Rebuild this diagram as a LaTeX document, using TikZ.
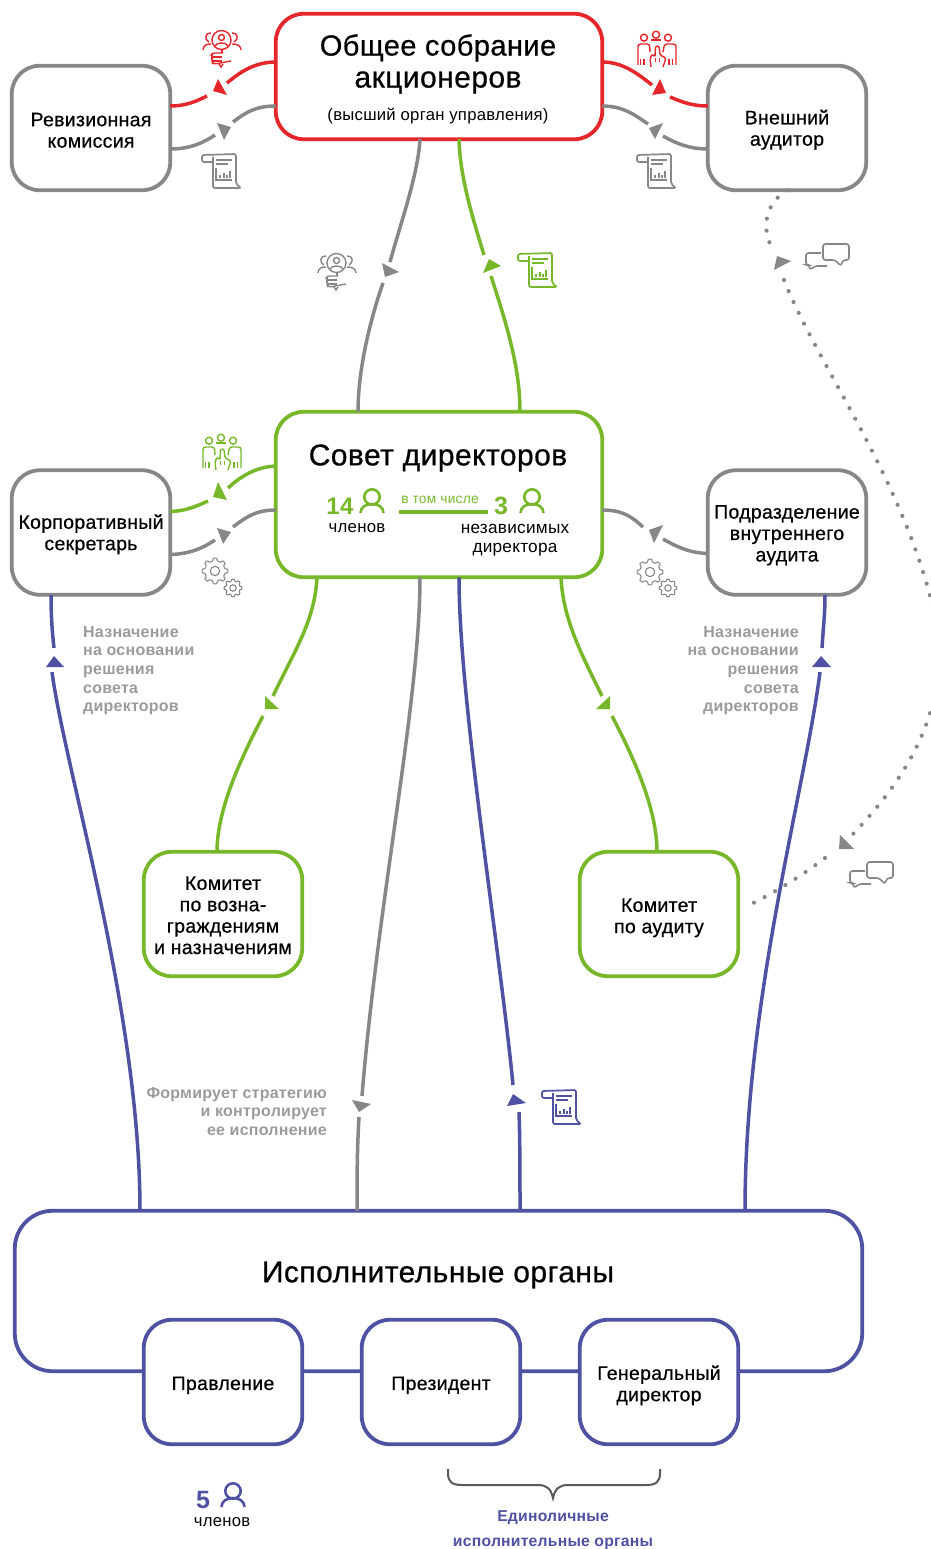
\documentclass[tikz,border=0pt]{standalone}
\usepackage{fontspec}
\setmainfont{Liberation Sans}[LetterSpace=1.5]
\newfontfamily\med{Liberation Sans}[FakeBold=0.6,LetterSpace=1.5]
\newfontfamily\bld{Liberation Sans Bold}[LetterSpace=1.5]
\usetikzlibrary{calc}
\definecolor{cred}{HTML}{E5262B}
\definecolor{cgreen}{HTML}{77B82B}
\definecolor{cblue}{HTML}{4F51A2}
\definecolor{cgray}{HTML}{878787}
\definecolor{ctxt}{HTML}{9B9B9B}
\newcommand\fs[2]{\fontsize{#1}{#2}\selectfont}
\newcommand\tp[1]{\rule{0pt}{#1pt}}
\tikzset{
 box/.style={fill=white,line width=3.8pt,rounded corners=28pt,inner sep=0pt,outer sep=0pt,align=center,text=black,font=\med\fs{19.5}{21.4}},
 sbox/.style={box,minimum width=158.5pt,minimum height=124.5pt},
 wbox/.style={box,minimum width=326.5pt},
 lbl/.style={inner sep=0pt,outer sep=0pt,align=center},
 conn/.style={line width=3.5pt},
 dots/.style={cgray,line width=4.2pt,line cap=round,dash pattern=on 0pt off 12pt},
 note/.style={inner sep=0pt,text=ctxt,font=\bld\fs{16}{18.6}},
 pics/doc/.style={code={
  \draw[line width=1.7pt,rounded corners=2pt] (11,8)--(0,8)--(0,1)--(34,0)--(34,30)--(39,34)--(11,34)--(11,3);
  \draw[line width=1.7pt] (14,6)--(30,6) (14,10)--(26,10) (14,14)--(14,26)--(30,26);
  \draw[line width=2pt] (18,24)--(18,21) (21.5,24)--(21.5,19) (25,24)--(25,21) (28,24)--(28,17);
 }},
 pics/loupe/.style={code={
  \draw[line width=1.4pt] (18.5,10) circle (9.5);
  \draw[line width=1.4pt] (18.5,7.5) circle (3);
  \draw[line width=1.4pt] (12,16)..controls (13,12) and (24,12)..(25,16);
  \draw[line width=1.4pt] (8,3)..controls (2,2) and (1,10)..(6,12) (0,20)..controls (0,15) and (4,14)..(8,14);
  \draw[line width=1.4pt] (29,3)..controls (35,2) and (36,10)..(31,12) (38,20)..controls (38,15) and (33,14)..(29,14);
  \draw[line width=1.4pt,rounded corners=1.5pt] (19,20)--(19,23);
  \draw[line width=1.4pt,rounded corners=1.5pt] (20,23)--(10,23)--(8,25)--(10,27)--(8,29)--(10,31)--(9,33)--(12,34)--(28,31);
  \draw[line width=1.4pt] (10,27)--(19,27) (10,31)--(19,31);
  \draw[line width=1.4pt] (16,34)--(18,37)--(20,34);
 }},
 pics/vote/.style={code={
  \draw[line width=1.4pt] (7,6.7) circle (3.5) (19,3.7) circle (3.5) (31,6.7) circle (3.5);
  \draw[line width=1.4pt,rounded corners=2.5pt] (1,34)--(1,13)--(12.5,13)--(13,21) (39,34)--(39,13)--(27.5,13)--(26,21);
  \draw[line width=1.4pt] (14,9)--(24,9);
  \draw[line width=1.7pt] (3.5,28)--(3.5,34) (7,28)--(7,34) (32,28)--(32,34) (35.5,28)--(35.5,34);
  \draw[line width=1.4pt,rounded corners=1.5pt] (14,36)--(13,28)--(15,23)--(18,26)--(18.5,15)--(22,15)--(23,24)--(29,27)--(26,36);
  \draw[line width=1pt] (18,27)--(18,31) (22,27)--(22,31);
 }},
 pics/gear/.style={code={
  \draw[line width=1.1pt,rounded corners=.7pt] (-13:{#1*.78}) \foreach \a in {0,45,...,315}{ -- (\a-13:{#1*.78}) -- (\a-8:#1) -- (\a+8:#1) -- (\a+13:{#1*.78}) } -- cycle;
  \draw[line width=1.1pt] (0,0) circle ({#1*.36});
 }},
 pics/chat/.style={code={
  \draw[line width=1.6pt,rounded corners=2.5pt] (15,9)--(0,9)--(0,21)--(3,21)--(4,26)--(9,22)--(21,22);
  \draw[line width=1.6pt,rounded corners=2.5pt] (17,0)--(43,0)--(43,16)--(37,16)--(35,22)--(29,16)--(17,16)--cycle;
 }},
 pics/man/.style={code={
  \draw[line width=2.6pt] (0,0) circle (7.7);
  \draw[line width=2.6pt] (-11.5,16)..controls (-11.5,10) and (-6,7)..(0,7)..controls (6,7) and (11.5,10)..(11.5,16);
 }},
}
\newcommand\tri[4]{\fill[#1] #2--#3--#4--cycle;}
\begin{document}
\begin{tikzpicture}[x=1pt,y=-1pt]
\useasboundingbox (0,0) rectangle (931,1549);

% boxes
\node[wbox,draw=cred,minimum height=125.5pt] (gsm) at (439,76.5) {};
\node[lbl,font=\med\fs{30}{32}] (gsmt) at (438,64) {{\fs{29}{32}Общее собрание}\\акционеров};
\node[lbl,font=\fs{16.7}{18}] (gsms) at (438,116) {(высший орган управления)};
\node[sbox,draw=cgray] (rev) at (91,128) {\tp{18}Ревизионная\\комиссия};
\node[sbox,draw=cgray] (ext) at (787,128) {\tp{18}Внешний\\аудитор};
\node[wbox,draw=cgreen,minimum height=165.5pt] (sov) at (439,494.5) {};
\node[lbl,font=\med\fs{30}{32}] (sovt) at (438,458) {Совет директоров};
\node[sbox,draw=cgray] (kor) at (91,532.5) {\tp{18}Корпоративный\\секретарь};
\node[sbox,draw=cgray] (pod) at (787,532.5) {\tp{19}Подразделение\\внутреннего\\аудита};
\node[sbox,draw=cgreen] (knom) at (223,914) {\tp{16}Комитет\\по возна-\\граждениям\\и назначениям};
\node[sbox,draw=cgreen] (kaud) at (659,914) {\tp{21}Комитет\\по аудиту};
\node[box,draw=cblue,rounded corners=38pt,minimum width=847.5pt,minimum height=160.5pt] (isp) at (438.5,1291) {};
\node[lbl,font=\med\fs{30}{32}] (ispt) at (438,1275) {Исполнительные органы};
\node[sbox,draw=cblue] (pra) at (223,1382) {\tp{20}Правление};
\node[sbox,draw=cblue] (pre) at (441,1382) {\tp{20}Президент};
\node[sbox,draw=cblue] (gen) at (659,1382) {\tp{21}Генеральный\\директор};

% free ends of connectors (at the arrowheads)
\coordinate (a1) at (227,83);  \coordinate (a2) at (207,96);
\coordinate (a3) at (233,122); \coordinate (a4) at (215,135);
\coordinate (b1) at (652,85);  \coordinate (b2) at (670,97);
\coordinate (b3) at (648,124); \coordinate (b4) at (663,136);
\coordinate (c1) at (390,262); \coordinate (c2) at (383,283);
\coordinate (d1) at (484,255); \coordinate (d2) at (491,276);
\coordinate (e1) at (228,488); \coordinate (e2) at (208,501);
\coordinate (e3) at (233,527); \coordinate (e4) at (215,540);
\coordinate (f1) at (643,527); \coordinate (f2) at (663,539);
\coordinate (g1) at (273,696); \coordinate (g2) at (263,716);
\coordinate (h1) at (602,696); \coordinate (h2) at (612,716);
\coordinate (i1) at (362,1096);\coordinate (i2) at (359,1117);
\coordinate (j1) at (513,1085);\coordinate (j2) at (519,1112);
\coordinate (k1) at (54,648);  \coordinate (k2) at (52,672);
\coordinate (l1) at (822,648); \coordinate (l2) at (820,672);

% top box side connectors
\draw[conn,cred] ($(gsm.north west)+(0,48.25)$)..controls (255,62) and (240,72)..(a1);
\draw[conn,cred] (a2)..controls (195,102) and (185,106)..($(rev.north east)+(0,40.25)$);
\draw[conn,cgray] ($(gsm.north west)+(0,92.25)$)..controls (255,106) and (245,113)..(a3);
\draw[conn,cgray] (a4)..controls (203,143) and (190,149)..($(rev.north east)+(0,83.25)$);
\draw[conn,cred] ($(gsm.north east)+(0,48.25)$)..controls (623,62) and (638,74)..(b1);
\draw[conn,cred] (b2)..controls (682,102) and (692,106)..($(ext.north west)+(0,40.25)$);
\draw[conn,cgray] ($(gsm.north east)+(0,92.25)$)..controls (623,106) and (635,115)..(b3);
\draw[conn,cgray] (b4)..controls (677,144) and (690,149)..($(ext.north west)+(0,83.25)$);
% shareholders to board
\draw[conn,cgray] ($(gsm.south west)+(144.25,0)$)..controls (418,175) and (400,225)..(c1);
\draw[conn,cgray] (c2)..controls (370,320) and (358,370)..($(sov.north west)+(82.25,0)$);
\draw[conn,cgreen] ($(gsm.south west)+(183.25,0)$)..controls (460,180) and (475,225)..(d1);
\draw[conn,cgreen] (d2)..controls (505,320) and (520,365)..($(sov.north west)+(244.25,0)$);
% board side connectors
\draw[conn,cgreen] ($(sov.north west)+(0,54.25)$)..controls (255,467) and (240,477)..(e1);
\draw[conn,cgreen] (e2)..controls (195,507) and (185,511)..($(kor.north east)+(0,41.25)$);
\draw[conn,cgray] ($(sov.north west)+(0,98.25)$)..controls (255,510) and (245,518)..(e3);
\draw[conn,cgray] (e4)..controls (203,548) and (190,554)..($(kor.north east)+(0,84.25)$);
\draw[conn,cgray] ($(sov.north east)+(0,98.25)$)..controls (623,510) and (632,517)..(f1);
\draw[conn,cgray] (f2)..controls (677,547) and (690,553)..($(pod.north west)+(0,83.25)$);
% board to committees
\draw[conn,cgreen] ($(sov.south west)+(41.25,0)$)..controls (315,620) and (295,650)..(g1);
\draw[conn,cgreen] (g2)..controls (240,760) and (217,810)..($(knom.north west)+(73.25,0)$);
\draw[conn,cgreen] ($(sov.south west)+(285.25,0)$)..controls (563,620) and (582,655)..(h1);
\draw[conn,cgreen] (h2)..controls (635,760) and (657,810)..($(kaud.north west)+(77.25,0)$);
% board to executives
\draw[conn,cgray] ($(sov.south west)+(144.25,0)$)..controls (420,700) and (378,900)..(i1);
\draw[conn,cgray] (i2)..controls (357,1150) and (357,1180)..($(isp.north west)+(342.25,0)$);
\draw[conn,cblue] ($(sov.south west)+(183.25,0)$)..controls (459,700) and (500,950)..(j1);
\draw[conn,cblue] (j2)..controls (520,1140) and (520,1180)..($(isp.north west)+(505.25,0)$);
\draw[conn,cblue] ($(kor.south west)+(39.25,0)$)..controls (51,615) and (52,630)..(k1);
\draw[conn,cblue] (k2)..controls (65,770) and (140,1010)..($(isp.north west)+(125.25,0)$);
\draw[conn,cblue] ($(pod.south west)+(117.25,0)$)..controls (825,615) and (823,630)..(l1);
\draw[conn,cblue] (l2)..controls (805,790) and (745,1000)..($(isp.north west)+(730.25,0)$);

% dotted connectors
\coordinate (m1) at (771,246); \coordinate (m2) at (784,280);
\coordinate (m3) at (936,620); \coordinate (m4) at (936,690);
\coordinate (m5) at (853,834); \coordinate (m6) at (825,858);
\draw[dots] (ext.south)..controls (763,205) and (763,230)..(m1);
\draw[dots] (m2)..controls (820,370) and (905,480)..(m3);
\draw[dots] (m4)..controls (925,745) and (895,790)..(m5);
\draw[dots] (m6)..controls (800,877) and (775,892)..($(kaud.east)+(15,-11)$);

% arrowheads
\tri{cred}{(218,79)}{(213,91)}{(227,95)}
\tri{cgray}{(217,123)}{(231,127)}{(224,140)}
\tri{cred}{(660,79)}{(652,95)}{(666,93)}
\tri{cgray}{(649,128)}{(663,123)}{(655,139)}
\tri{cgray}{(382,263)}{(399,272)}{(385,277)}
\tri{cgreen}{(489,259)}{(501,266)}{(483,273)}
\tri{cgreen}{(218,482)}{(213,497)}{(227,500)}
\tri{cgray}{(217,528)}{(231,532)}{(223,544)}
\tri{cgray}{(649,530)}{(663,525)}{(654,543)}
\tri{cgreen}{(265,696)}{(279,709)}{(265,709)}
\tri{cgreen}{(610,696)}{(596,709)}{(610,709)}
\tri{cgray}{(352,1100)}{(371,1104)}{(359,1112)}
\tri{cblue}{(513,1094)}{(526,1103)}{(507,1106)}
\tri{cblue}{(54,656)}{(46,667)}{(64,667)}
\tri{cblue}{(821,656)}{(812,667)}{(831,667)}
\tri{cgray}{(774,270)}{(791,261)}{(777,256)}
\tri{cgray}{(840,835)}{(854,849)}{(839,849)}

% icons
\pic[color=cred] at (203,30) {loupe};
\pic[color=cred] at (637,31) {vote};
\pic[color=cgray] at (202,154) {doc};
\pic[color=cgray] at (637,154) {doc};
\pic[color=cgray] at (318,253) {loupe};
\pic[color=cgreen] at (518,253) {doc};
\pic[color=cgreen] at (202,434) {vote};
\pic[color=cgray] at (215,571) {gear=13};
\pic[color=cgray] at (233,588) {gear=9};
\pic[color=cgray] at (650,572) {gear=13};
\pic[color=cgray] at (668,588) {gear=9};
\pic[color=cblue] at (542,1090) {doc};
\pic[color=cgray] at (806,244) {chat};
\pic[color=cgray] at (850,862) {chat};

% board facts
\node[lbl,text=cgreen,font=\bld\fs{24}{25}] (n14) at (340,506) {14};
\pic[color=cgreen] at (372,497) {man};
\node[lbl,font=\fs{16.8}{18}] (n14t) at (357,528) {членов};
\node[lbl,text=cgreen,font=\fs{13.8}{15}] (nin) at (440,500) {в том числе};
\coordinate (q1) at (399,512); \coordinate (q2) at (488,512);
\draw[conn,cgreen] (q1)--(q2);
\node[lbl,text=cgreen,font=\bld\fs{25}{25}] (n3) at (501,506) {3};
\pic[color=cgreen] at (532,497) {man};
\node[lbl,font=\fs{17.2}{19}] (n3t) at (515,540) {независимых\\директора};

% notes
\node[note,align=left,anchor=north west] (nl) at (83,626) {Назначение\\на основании\\решения\\совета\\директоров};
\node[note,align=right,anchor=north east] (nr) at (799,626) {Назначение\\на основании\\решения\\совета\\директоров};
\node[note,align=right,anchor=north east] (ns) at (327,1087) {Формирует стратегию\\и контролирует\\ее исполнение};

% executives footer
\node[lbl,text=cblue,font=\bld\fs{25}{25}] (n5) at (203,1500) {5};
\pic[color=cblue] at (233,1491) {man};
\node[lbl,font=\fs{16.7}{18}] (n5t) at (222,1522) {членов};
\coordinate (br1) at (448,1469); \coordinate (br2) at (660,1469); \coordinate (br3) at (553,1498);
\draw[line width=2pt,color=black!65] (br1)--(448,1473)..controls (448,1482) and (452,1485)..(462,1485)--(538,1485)..controls (547,1485) and (551,1489)..(br3)..controls (555,1489) and (559,1485)..(568,1485)--(646,1485)..controls (656,1485) and (660,1482)..(660,1473)--(br2);
\node[lbl,text=cblue,font=\bld\fs{15.7}{25}] (edi) at (553,1530) {Единоличные\\исполнительные органы};
\end{tikzpicture}
\end{document}
